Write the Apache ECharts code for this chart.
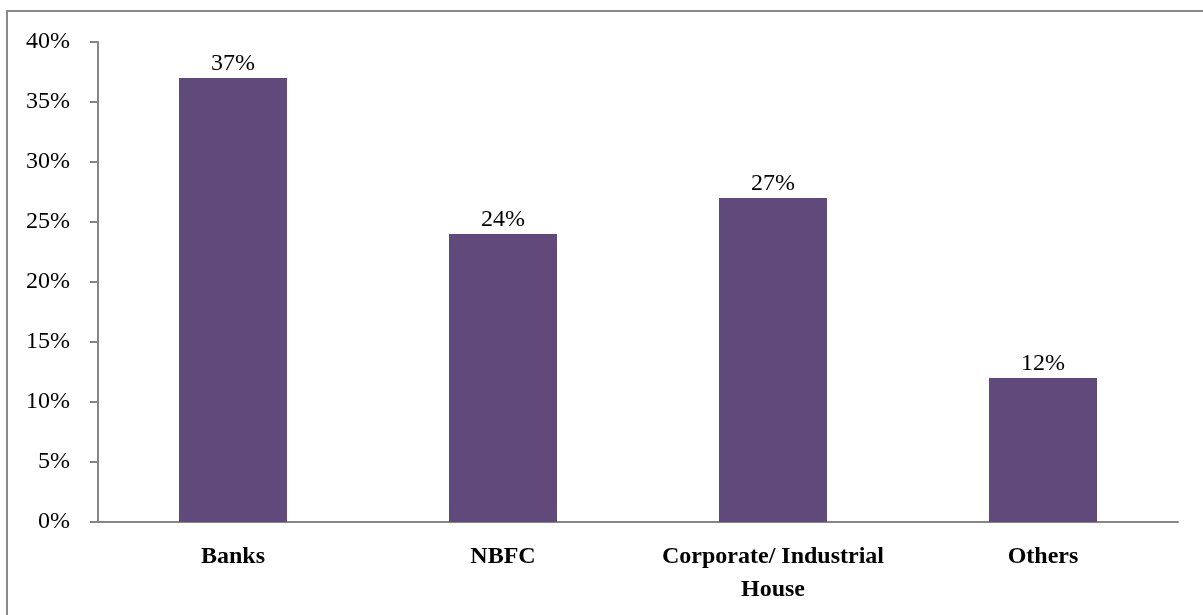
<!DOCTYPE html>
<html>
<head>
<meta charset="utf-8">
<script src="https://cdn.jsdelivr.net/npm/echarts@6/dist/echarts.min.js"></script>
<style>
  html, body { margin: 0; padding: 0; background: #fff; }
  #chart { width: 1203px; height: 615px; }
</style>
</head>
<body>
<div id="chart"></div>
<script>
// Share of entities by type (%)
const categories = ['Banks', 'NBFC', 'Corporate/ Industrial\nHouse', 'Others'];
const shares = [37, 24, 27, 12];
const yTicks = { min: 0, max: 40, interval: 5 };

const serif = '"Liberation Serif", "DejaVu Serif", serif';
const axisGrey = '#868686';

const chart = echarts.init(document.getElementById('chart'));
chart.setOption({
  animation: false,
  backgroundColor: '#fff',
  graphic: [{
    type: 'rect',
    shape: { x: 7, y: 11, width: 1210, height: 620 },
    style: { fill: 'none', stroke: '#8a8a8a', lineWidth: 2 },
    silent: true
  }],
  grid: { left: 98, right: 25, top: 42, bottom: 93 },
  xAxis: {
    type: 'category',
    data: categories,
    axisLine: { lineStyle: { color: axisGrey, width: 2 } },
    axisTick: { show: false },
    axisLabel: {
      fontFamily: serif,
      fontSize: 24,
      fontWeight: 'bold',
      color: '#000',
      margin: 18,
      lineHeight: 33,
      interval: 0
    }
  },
  yAxis: {
    type: 'value',
    min: yTicks.min,
    max: yTicks.max,
    interval: yTicks.interval,
    splitLine: { show: false },
    axisLine: { show: true, lineStyle: { color: axisGrey, width: 2 } },
    axisTick: { show: true, length: 8, lineStyle: { color: axisGrey, width: 2 } },
    axisLabel: {
      fontFamily: serif,
      fontSize: 24,
      color: '#000',
      margin: 28,
      padding: [3, 0, 0, 0],
      formatter: v => v + '%'
    }
  },
  series: [{
    type: 'bar',
    data: shares,
    barWidth: '40%',
    itemStyle: { color: '#604a7b' },
    label: {
      show: true,
      position: 'top',
      distance: 2,
      fontFamily: serif,
      fontSize: 24,
      color: '#000',
      formatter: p => p.value + '%'
    }
  }]
});
</script>
</body>
</html>
